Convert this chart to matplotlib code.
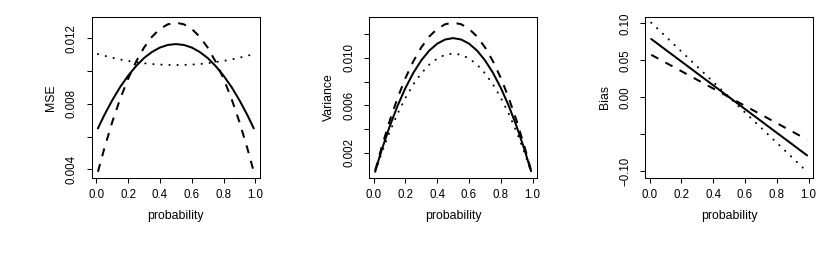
import matplotlib
matplotlib.use("Agg")
import matplotlib.pyplot as plt

plt.rcParams['font.family'] = ['Liberation Sans', 'DejaVu Sans']

# probability grid
prob = [0.01, 0.05, 0.10, 0.15, 0.20, 0.25, 0.30, 0.35, 0.40, 0.45, 0.50,
        0.55, 0.60, 0.65, 0.70, 0.75, 0.80, 0.85, 0.90, 0.95, 0.99]

# MSE
mse_solid = [0.00650, 0.00731, 0.00822, 0.00903, 0.00972, 0.01031, 0.01080, 0.01117, 0.01144, 0.01160, 0.01165,
             0.01160, 0.01144, 0.01117, 0.01080, 0.01031, 0.00972, 0.00903, 0.00822, 0.00731, 0.00650]
mse_dashed = [0.00385, 0.00527, 0.00689, 0.00831, 0.00954, 0.01058, 0.01144, 0.01210, 0.01258, 0.01286, 0.01296,
              0.01286, 0.01258, 0.01210, 0.01144, 0.01058, 0.00954, 0.00831, 0.00689, 0.00527, 0.00385]
mse_dotted = [0.01104, 0.01094, 0.01082, 0.01071, 0.01062, 0.01055, 0.01048, 0.01043, 0.01040, 0.01038, 0.01037,
              0.01038, 0.01040, 0.01043, 0.01048, 0.01055, 0.01062, 0.01071, 0.01082, 0.01094, 0.01104]

# Variance
var_solid = [0.000462, 0.002215, 0.004198, 0.005947, 0.007462, 0.008745, 0.009794, 0.010611, 0.011194, 0.011543, 0.011660,
             0.011543, 0.011194, 0.010611, 0.009794, 0.008745, 0.007462, 0.005947, 0.004198, 0.002215, 0.000462]
var_dashed = [0.000513, 0.002462, 0.004666, 0.006610, 0.008294, 0.009720, 0.010886, 0.011794, 0.012442, 0.012830, 0.012960,
              0.012830, 0.012442, 0.011794, 0.010886, 0.009720, 0.008294, 0.006610, 0.004666, 0.002462, 0.000513]
var_dotted = [0.000410, 0.001968, 0.003730, 0.005284, 0.006630, 0.007770, 0.008702, 0.009428, 0.009946, 0.010256, 0.010360,
              0.010256, 0.009946, 0.009428, 0.008702, 0.007770, 0.006630, 0.005284, 0.003730, 0.001968, 0.000410]

# Bias
bias_solid = [0.0787, 0.0723, 0.0642, 0.0562, 0.0482, 0.0402, 0.0321, 0.0241, 0.0161, 0.0080, 0.0000,
              -0.0080, -0.0161, -0.0241, -0.0321, -0.0402, -0.0482, -0.0562, -0.0642, -0.0723, -0.0787]
bias_dashed = [0.0573, 0.0527, 0.0468, 0.0410, 0.0351, 0.0293, 0.0234, 0.0176, 0.0117, 0.0059, 0.0000,
               -0.0059, -0.0117, -0.0176, -0.0234, -0.0293, -0.0351, -0.0410, -0.0468, -0.0527, -0.0573]
bias_dotted = [0.1008, 0.0926, 0.0823, 0.0720, 0.0617, 0.0515, 0.0412, 0.0309, 0.0206, 0.0103, 0.0000,
               -0.0103, -0.0206, -0.0309, -0.0412, -0.0515, -0.0617, -0.0720, -0.0823, -0.0926, -0.1008]

x_ticks = [0.0, 0.2, 0.4, 0.6, 0.8, 1.0]
x_ticklabels = ["0.0", "0.2", "0.4", "0.6", "0.8", "1.0"]

mse_ticks = [0.004, 0.006, 0.008, 0.010, 0.012]
mse_ticklabels = ["0.004", "", "0.008", "", "0.012"]
var_ticks = [0.002, 0.004, 0.006, 0.008, 0.010, 0.012]
var_ticklabels = ["0.002", "", "0.006", "", "0.010", ""]
bias_ticks = [-0.10, -0.05, 0.00, 0.05, 0.10]
bias_ticklabels = ["\u22120.10", "", "0.00", "0.05", "0.10"]

panels = [
    ("MSE", [mse_solid, mse_dashed, mse_dotted], mse_ticks, mse_ticklabels),
    ("Variance", [var_solid, var_dashed, var_dotted], var_ticks, var_ticklabels),
    ("Bias", [bias_solid, bias_dashed, bias_dotted], bias_ticks, bias_ticklabels),
]

W, H = 830, 270
fig = plt.figure(figsize=(W / 100, H / 100), dpi=100)
fig.patch.set_facecolor("white")

lw = 1.45
lefts = [91.7, 369.0, 645.0]
for (ylab, series, yt, ytl), left in zip(panels, lefts):
    ax = fig.add_axes([left / W, (H - 177.7) / H, 168.3 / W, 161.0 / H])
    styles = [dict(linestyle="-", solid_capstyle="round"),
              dict(linestyle=(0, (4, 4)), dash_capstyle="butt"),
              dict(linestyle=(0, (0.1, 3.9)), dash_capstyle="round")]
    for s, st in zip(series, styles):
        ax.plot(prob, s, color="black", linewidth=lw, **st)
    ax.margins(x=0.04, y=0.04)
    ax.set_xticks(x_ticks)
    ax.set_xticklabels(x_ticklabels, fontsize=8.3)
    ax.set_yticks(yt)
    ax.set_yticklabels(ytl, fontsize=8.3, rotation=90, va="center")
    ax.tick_params(axis="both", direction="out", length=3.6, width=0.75, color="black")
    ax.tick_params(axis="x", pad=4.6)
    ax.tick_params(axis="y", pad=6.3)
    for sp in ax.spines.values():
        sp.set_linewidth(0.75)
        sp.set_color("black")
    ax.set_xlabel("probability", fontsize=8.8)
    ax.xaxis.set_label_coords(0.5, -(215.5 - 177.7) / 161.0)
    ax.xaxis.label.set_verticalalignment("center")
    ax.set_ylabel(ylab, fontsize=8.8)
    ax.yaxis.set_label_coords(-40.5 / 168.3, 0.5)
    ax.yaxis.label.set_verticalalignment("center")

fig.savefig("out.png", dpi=100, facecolor="white")
